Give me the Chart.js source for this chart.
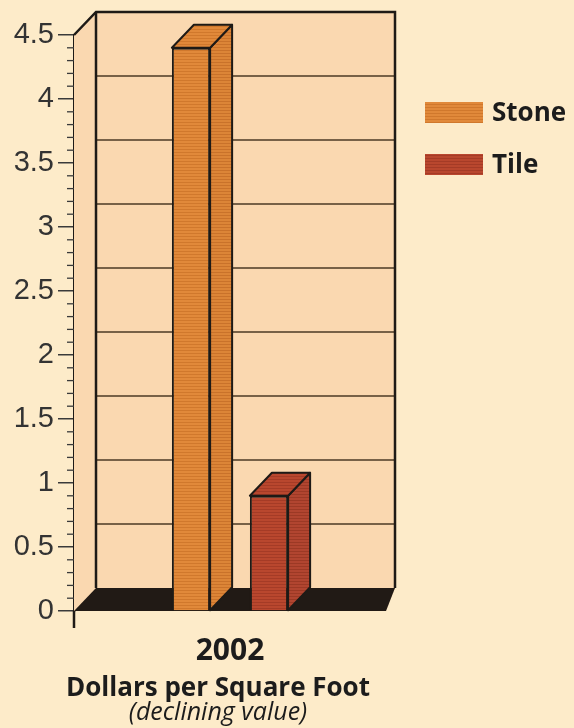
<!DOCTYPE html>
<html>
<head>
<meta charset="utf-8">
<script src="https://cdn.jsdelivr.net/npm/chart.js@4"></script>
<style>
  html, body { margin: 0; padding: 0; background: #fdebc9; }
  #wrap { width: 574px; height: 728px; }
</style>
</head>
<body>
<div id="wrap"><canvas id="priceChart" width="574" height="728"></canvas></div>
<script>
const years = ["2002"];
const materials = ["Stone", "Tile"];
const stonePrice = [4.4];
const tilePrice = [0.9];
const yTicks = [0, 0.5, 1, 1.5, 2, 2.5, 3, 3.5, 4, 4.5];
const axisTitle = "Dollars per Square Foot";
const axisNote = "(declining value)";

const wallColor = "#fad8b0";
const floorColor = "#211a15";
const edgeColor = "#1e1a16";
const gridColor = "#4b3a24";
const DX = 22, DY = 23; // depth of the 3d box

const canvas = document.getElementById("priceChart");
const ctx = canvas.getContext("2d");

// fine horizontal halftone stripes for the bars
function stripes(base, line) {
  const c = document.createElement("canvas");
  c.width = 4; c.height = 3;
  const g = c.getContext("2d");
  g.fillStyle = base; g.fillRect(0, 0, 4, 3);
  g.fillStyle = line; g.fillRect(0, 2, 4, 1);
  return ctx.createPattern(c, "repeat");
}

const stoneFill = stripes("#e1893a", "#d0782c");
const stoneSide = stripes("#dc8537", "#c9722a");
const tileFill = stripes("#b9472e", "#a53b26");
const tileSide = stripes("#b14530", "#9c3925");

function poly(pts, fill, stroke, w) {
  ctx.beginPath();
  ctx.moveTo(pts[0][0], pts[0][1]);
  for (let i = 1; i < pts.length; i++) ctx.lineTo(pts[i][0], pts[i][1]);
  ctx.closePath();
  if (fill) { ctx.fillStyle = fill; ctx.fill(); }
  if (stroke) { ctx.strokeStyle = stroke; ctx.lineWidth = w; ctx.lineJoin = "round"; ctx.stroke(); }
}

function line(x1, y1, x2, y2) {
  ctx.beginPath();
  ctx.moveTo(x1, y1);
  ctx.lineTo(x2, y2);
  ctx.stroke();
}

const box3d = {
  id: "box3d",
  beforeDatasetsDraw(chart) {
    const a = chart.chartArea;
    const y = chart.scales.y;
    const backRight = a.right + 9;
    ctx.save();

    // side + back wall
    poly([[a.left, a.bottom], [a.left, a.top], [a.left + DX, a.top - DY],
          [backRight, a.top - DY], [backRight, a.bottom - DY], [a.right, a.bottom]], wallColor);

    // grid lines on the back wall
    ctx.strokeStyle = gridColor;
    ctx.lineWidth = 1.6;
    yTicks.forEach(v => {
      if (v <= y.min || v >= y.max) return;
      const py = y.getPixelForValue(v) - DY;
      line(a.left + DX, py, backRight, py);
    });

    // floor
    poly([[a.left, a.bottom], [a.left + DX, a.bottom - DY],
          [backRight, a.bottom - DY], [a.right, a.bottom]], floorColor);

    // wall edges
    ctx.strokeStyle = edgeColor;
    ctx.lineWidth = 2.5;
    ctx.beginPath();
    ctx.moveTo(a.left, a.top);
    ctx.lineTo(a.left + DX, a.top - DY);
    ctx.lineTo(backRight, a.top - DY);
    ctx.lineTo(backRight, a.bottom - DY);
    ctx.stroke();
    line(a.left + DX, a.top - DY, a.left + DX, a.bottom - DY);

    // minor ticks and the axis stub below zero
    ctx.lineWidth = 1.3;
    ctx.strokeStyle = "#3a3a3a";
    for (let i = 1; i < 45; i++) {
      if (i % 5 === 0) continue;
      const py = y.getPixelForValue(i / 10);
      line(a.left - 7, py, a.left, py);
    }
    ctx.lineWidth = 2.5;
    ctx.strokeStyle = edgeColor;
    line(a.left, a.bottom, a.left, a.bottom + 17);
    ctx.restore();
  },
  afterDatasetsDraw(chart) {
    ctx.save();
    chart.data.datasets.forEach((ds, i) => {
      chart.getDatasetMeta(i).data.forEach(bar => {
        const p = bar.getProps(["x", "y", "width", "base"], true);
        const l = p.x - p.width / 2, r = p.x + p.width / 2;
        // right side face
        poly([[r, p.y], [r + DX, p.y - DY], [r + DX, p.base - DY], [r, p.base]], ds.sideColor, edgeColor, 2);
        // top face
        poly([[l, p.y], [l + DX, p.y - DY], [r + DX, p.y - DY], [r, p.y]], ds.topColor, edgeColor, 2);
      });
    });
    ctx.restore();
  },
  afterDraw(chart) {
    ctx.save();
    // legend
    chart.data.datasets.forEach((ds, i) => {
      const top = 102 + i * 52;
      ctx.fillStyle = ds.backgroundColor;
      ctx.fillRect(425, top, 58, 21);
      ctx.fillStyle = "#1c1c1c";
      ctx.font = "bold 26px 'Open Sans'";
      ctx.textAlign = "left";
      ctx.textBaseline = "middle";
      ctx.fillText(ds.label, 492, top + 12);
    });
    // axis title
    ctx.textAlign = "center";
    ctx.fillStyle = "#1c1c1c";
    ctx.font = "bold 26px 'Open Sans'";
    ctx.fillText(axisTitle, 218, 689);
    ctx.font = "italic 25px 'Open Sans'";
    ctx.fillText(axisNote, 218, 713);
    ctx.restore();
  }
};

new Chart(ctx, {
  type: "bar",
  data: {
    labels: years,
    datasets: [
      {
        label: materials[0],
        data: stonePrice,
        backgroundColor: stoneFill,
        sideColor: stoneSide,
        topColor: stoneFill,
        borderColor: edgeColor,
        borderWidth: 2,
      },
      {
        label: materials[1],
        data: tilePrice,
        backgroundColor: tileFill,
        sideColor: tileSide,
        topColor: tileFill,
        borderColor: edgeColor,
        borderWidth: 2,
      },
    ],
  },
  options: {
    responsive: false,
    animation: false,
    devicePixelRatio: 1,
    categoryPercentage: 0.5,
    barPercentage: 0.49,
    layout: { padding: { top: 35, right: 188, left: 0, bottom: 0 } },
    plugins: {
      legend: { display: false },
      tooltip: { enabled: false },
    },
    scales: {
      x: {
        afterFit(s) { s.height = 117; },
        grid: { display: false },
        border: { display: false },
        ticks: {
          color: "#1c1c1c",
          padding: 14,
          font: { family: "Open Sans", weight: "bold", size: 30 },
        },
      },
      y: {
        min: 0,
        max: 4.5,
        afterFit(s) { s.width = 74; },
        afterBuildTicks(s) { s.ticks = yTicks.map(v => ({ value: v })); },
        grid: { drawOnChartArea: false, tickLength: 16, color: "#3a3a3a", lineWidth: 1.5 },
        border: { display: true, color: edgeColor, width: 2.5 },
        ticks: {
          color: "#333",
          padding: 4,
          font: { family: "Liberation Sans", size: 29 },
          callback: v => String(v),
        },
      },
    },
  },
  plugins: [box3d],
});
</script>
</body>
</html>
